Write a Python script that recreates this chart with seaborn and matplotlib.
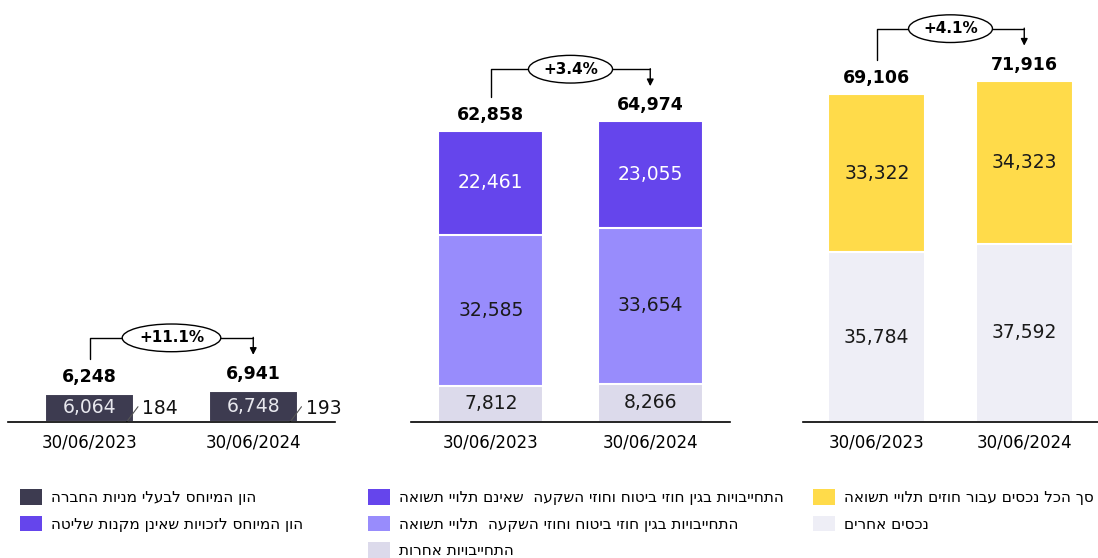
import matplotlib
matplotlib.use('Agg')
import matplotlib.pyplot as plt
from matplotlib.patches import Patch
import seaborn as sns

sns.set_style('white')
plt.rcParams['font.family'] = ['DejaVu Sans']
plt.rcParams['text.color'] = 'black'
plt.rcParams['xtick.color'] = 'black'

# data (NIS millions)
dates = ['30/06/2023', '30/06/2024']

equity_owners = [6064, 6748]
equity_nci = [184, 193]
equity_total = [6248, 6941]

liab_other = [7812, 8266]
liab_yield = [32585, 33654]
liab_nonyield = [22461, 23055]
liab_total = [62858, 64974]

assets_other = [35784, 37592]
assets_yield = [33322, 34323]
assets_total = [69106, 71916]

changes = ['+11.1%', '+3.4%', '+4.1%']

# legend labels (logical order, reversed on draw because matplotlib has no bidi)
lbl_owners = 'הון המיוחס לבעלי מניות החברה'
lbl_nci = 'הון המיוחס לזכויות שאינן מקנות שליטה'
lbl_nonyield = 'התחייבויות בגין חוזי ביטוח וחוזי השקעה  שאינם תלויי תשואה'
lbl_yield = 'התחייבויות בגין חוזי ביטוח וחוזי השקעה  תלויי תשואה'
lbl_other = 'התחייבויות אחרות'
lbl_ayield = 'סך הכל נכסים עבור חוזים תלויי תשואה'
lbl_aother = 'נכסים אחרים'

c_dark = '#3d3b50'
c_purple = '#6545ec'
c_lpurple = '#988cfc'
c_lav = '#dcdaeb'
c_yellow = '#ffdb4a'
c_grey = '#eeeef6'


def rtl(s):
    return s[::-1]


W, H = 1098, 558
fig = plt.figure(figsize=(W / 100, H / 100), dpi=100)


def make_ax(x0, x1, c0, c1):
    # x0/x1 pixel extent of the baseline, c0/c1 pixel centres of the bars
    ax = fig.add_axes([x0 / W, (H - 422) / H, (x1 - x0) / W, 422 / H])
    unit = c1 - c0
    ax.set_xlim(-(c0 - x0) / unit, 1 + (x1 - c1) / unit)
    return ax, unit


def stacked(ax, segs, colors, width):
    cum = []
    run = [0, 0]
    for s in segs:
        run = [a + b for a, b in zip(run, s)]
        cum.append(run)
    for vals, col in reversed(list(zip(cum, colors))):
        sns.barplot(x=dates, y=vals, color=col, saturation=1, width=width,
                    edgecolor='white', linewidth=1.5, errorbar=None, ax=ax)


def seg_labels(ax, segs, txtcols):
    bottom = [0, 0]
    for s, tc in zip(segs, txtcols):
        for i in range(2):
            ax.text(i, bottom[i] + s[i] / 2, f'{s[i]:,}', ha='center', va='center',
                    fontsize=13.5, color=tc)
            bottom[i] += s[i]


def totals_and_change(ax, totals, change, ymax):
    px = ymax / 422
    for i in range(2):
        ax.annotate(f'{totals[i]:,}', xy=(i, totals[i]), xytext=(0, 8),
                    textcoords='offset points', ha='center', va='baseline',
                    fontsize=12.5, fontweight='bold', color='black', annotation_clip=False)
    hline = max(totals) + 52 * px
    start = totals[0] + 34 * px
    tip = totals[1] + 35 * px
    ax.plot([0, 0, 1], [start, hline, hline], color='black', lw=1, clip_on=False)
    ax.annotate('', xy=(1, tip), xytext=(1, hline + 0.5 * px),
                arrowprops=dict(arrowstyle='-|>', color='black', lw=1, mutation_scale=10,
                                shrinkA=0, shrinkB=0), annotation_clip=False)
    ax.text(0.5, hline, change, ha='center', va='center', fontsize=11, fontweight='bold',
            color='black',
            bbox=dict(boxstyle='ellipse,pad=0.15', fc='white', ec='black', lw=1), clip_on=False)


def style(ax, ymax):
    ax.set_ylim(0, ymax)
    sns.despine(ax=ax, left=True)
    ax.spines['bottom'].set_color('black')
    ax.spines['bottom'].set_linewidth(1.2)
    ax.set_yticks([])
    ax.set_xlabel('')
    ax.set_ylabel('')
    ax.tick_params(axis='x', length=0, labelsize=12, pad=8, labelcolor='black')


# left panel: equity
ymax_a = 422 * liab_total[0] / 291
ax1, u1 = make_ax(8, 335, 90, 255)
stacked(ax1, [equity_owners, equity_nci], [c_dark, c_purple], 90 / u1)
seg_labels(ax1, [equity_owners], ['#e8e8ee'])
for i in range(2):
    ax1.plot([i + 0.225, i + 0.295], [0, 3300], color='#555555', lw=0.8)
    ax1.text(i + 0.32, 3000, f'{equity_nci[i]:,}', ha='left', va='center', fontsize=13.5,
             color='#111111')
style(ax1, ymax_a)
totals_and_change(ax1, equity_total, changes[0], ymax_a)

# middle panel: liabilities
ax2, u2 = make_ax(411, 730, 490, 650)
stacked(ax2, [liab_other, liab_yield, liab_nonyield], [c_lav, c_lpurple, c_purple], 105 / u2)
seg_labels(ax2, [liab_other, liab_yield, liab_nonyield], ['#1a1a1a', '#1a1a1a', 'white'])
style(ax2, ymax_a)
totals_and_change(ax2, liab_total, changes[1], ymax_a)

# right panel: assets
ymax_c = 422 * assets_total[0] / 328
ax3, u3 = make_ax(803, 1098, 878.5, 1029)
stacked(ax3, [assets_other, assets_yield], [c_grey, c_yellow], 99 / u3)
seg_labels(ax3, [assets_other, assets_yield], ['#1a1a1a', '#1a1a1a'])
style(ax3, ymax_c)
totals_and_change(ax3, assets_total, changes[2], ymax_c)


def legend(items, x):
    handles = [Patch(facecolor=c, edgecolor='none') for c, _ in items]
    labels = [rtl(t) for _, t in items]
    fig.legend(handles, labels, loc='upper left', bbox_to_anchor=(x / W, (H - 489) / H),
               frameon=False, fontsize=11, handlelength=1.45, handleheight=1.2,
               handletextpad=0.55, labelspacing=0.7, borderpad=0, borderaxespad=0,
               labelcolor='black')


legend([(c_dark, lbl_owners), (c_purple, lbl_nci)], 20)
legend([(c_purple, lbl_nonyield), (c_lpurple, lbl_yield), (c_lav, lbl_other)], 368)
legend([(c_yellow, lbl_ayield), (c_grey, lbl_aother)], 813)

fig.savefig('out.png', dpi=100)
